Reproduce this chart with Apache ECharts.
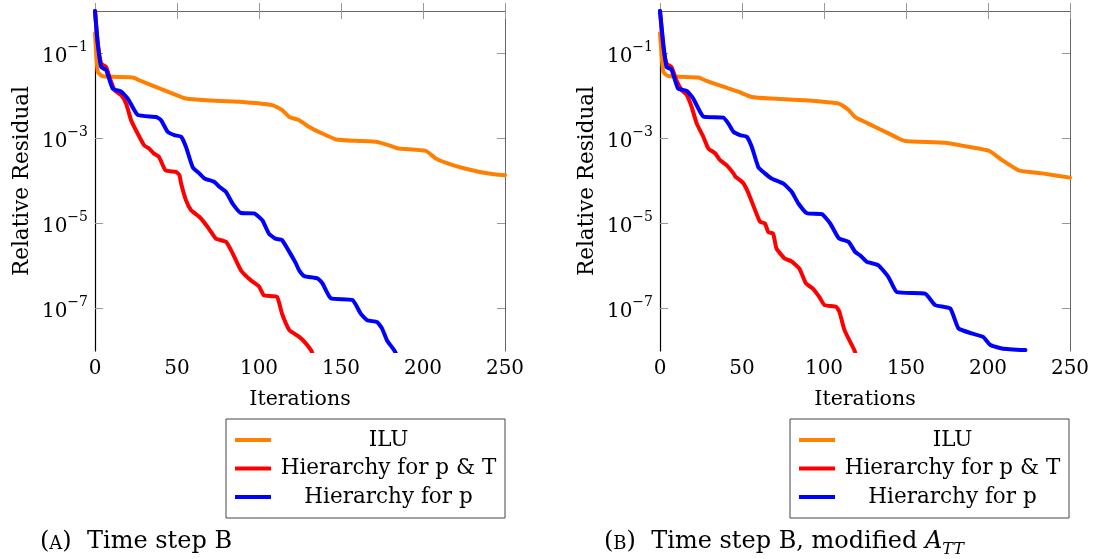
<!DOCTYPE html>
<html><head><meta charset="utf-8">
<script src="https://cdn.jsdelivr.net/npm/echarts@6/dist/echarts.min.js"></script>
<style>html,body{margin:0;padding:0;background:#fff}#c{width:1097px;height:559px}</style>
</head><body><div id="c"></div>
<script>
// ---------- data ----------
const xTicks = [0, 50, 100, 150, 200, 250];
const yTickExponents = [-7, -5, -3, -1];
const yRangeExponents = [-8, 0];
const seriesNames = ['ILU', 'Hierarchy for p & T', 'Hierarchy for p'];
const seriesColors = ['#ff8000', '#ff0000', '#0000ff'];

// Panel A: Time step B
const iluA = [[0,0.3],[1.7,0.037],[4.8,0.029],[23,0.0272],[27,0.0235],[37,0.0164],[47,0.0115],[55.5,0.0087],[68,0.0079],[88,0.0073],[108,0.0061],[114,0.0047],[118.5,0.0032],[124.5,0.0027],[130.6,0.00187],[138.6,0.00131],[147,0.00095],[159,0.00088],[172,0.00083],[179.4,0.00069],[185.4,0.00058],[201.7,0.00051],[207.8,0.00034],[217.7,0.00024],[228,0.000187],[240,0.00015],[250,0.000136]];
const pTA = [[0,1],[1.7,0.17],[3.8,0.058],[6.8,0.048],[8.8,0.028],[11.9,0.0137],[16,0.0104],[19,0.0066],[22,0.0027],[26,0.00131],[30,0.00069],[33,0.00058],[36,0.00044],[39,0.00037],[43,0.000178],[49.5,0.000163],[51.5,0.000137],[52.5,8.7e-5],[55.5,3.5e-5],[58.6,2.05e-5],[63.6,1.44e-5],[68.7,8.3e-6],[73.8,4.4e-6],[79.9,3.7e-6],[84,1.96e-6],[89,7.9e-7],[95,4.6e-7],[100,3.3e-7],[103,2.05e-7],[111,1.87e-7],[114,7.6e-8],[118.5,3.1e-8],[124.5,2.15e-8],[128,1.6e-8],[131.7,1.05e-8],[133,8e-9]];
const pA = [[0,1],[1.7,0.17],[3.8,0.048],[6.8,0.041],[10.8,0.015],[16,0.0126],[20,0.0087],[26,0.0036],[37.3,0.0032],[40.3,0.0027],[44.3,0.00144],[48.4,0.0012],[52.5,0.0011],[55.5,0.00063],[59.6,0.00021],[63.6,0.000151],[66.7,0.000115],[72.8,9.5e-5],[75.8,7.3e-5],[79.9,5.5e-5],[84,2.9e-5],[89,1.77e-5],[97,1.73e-5],[102,1.2e-5],[106,5.8e-6],[110,4.4e-6],[114,4.1e-6],[118.5,2.15e-6],[122.5,1.15e-6],[124.5,7.9e-7],[127.6,5.8e-7],[135.7,5.1e-7],[138.7,3.9e-7],[143.8,1.74e-7],[157,1.58e-7],[162,7.6e-8],[166,5.3e-8],[172,4.8e-8],[175,3.4e-8],[178,1.8e-8],[182.4,1.05e-8],[184,8e-9]];

// Panel B: Time step B, modified A_TT
const iluB = [[0,0.3],[2,0.037],[5,0.0295],[23.4,0.0272],[27.5,0.0234],[37.7,0.017],[47.8,0.0126],[56,0.0095],[68,0.0087],[88.5,0.0079],[109,0.0066],[115,0.0047],[119,0.0032],[125,0.00245],[127,0.00224],[139.3,0.00132],[145.5,0.001],[149.6,0.00087],[174,0.00079],[184,0.00068],[200.4,0.00052],[208.6,0.00031],[218.7,0.000178],[233,0.000151],[250,0.00012]];
const pTB = [[0,1],[2,0.145],[4,0.058],[7,0.048],[10,0.0234],[13.2,0.0138],[16.3,0.0105],[19.3,0.0055],[22.4,0.00224],[26.4,0.0011],[29.5,0.00058],[33.6,0.00045],[36.6,0.00031],[40.7,0.000234],[44.8,0.000151],[46,0.000126],[48.8,0.000105],[51,8.7e-5],[54,5.1e-5],[58,2.05e-5],[61,1.1e-5],[64,1.0e-5],[66,6.3e-6],[69,5.8e-6],[71,2.6e-6],[76,1.5e-6],[80,1.3e-6],[85,8.7e-7],[89,3.9e-7],[93.2,2.95e-7],[97.2,1.86e-7],[100.3,1.2e-7],[107.4,1.1e-7],[109.4,8.3e-8],[112.5,3.1e-8],[116.5,1.5e-8],[118.5,1.05e-8],[119.5,8e-9]];
const pB = [[0,1],[2,0.17],[4,0.048],[7,0.042],[11,0.015],[16.3,0.0132],[20.3,0.0087],[26.4,0.0033],[38.6,0.0031],[41.7,0.00224],[44.8,0.00144],[48.8,0.0012],[52.9,0.0011],[56,0.00063],[60,0.00021],[64,0.000151],[68,0.000115],[75.3,8.7e-5],[80.4,5.5e-5],[84.4,2.95e-5],[89.6,1.74e-5],[98.7,1.66e-5],[103.8,1.0e-5],[109,4.5e-6],[115,3.7e-6],[119,2.15e-6],[122,1.78e-6],[126,1.26e-6],[133,1.05e-6],[139.3,5.5e-7],[144.4,2.45e-7],[161.7,2.24e-7],[167.8,1.2e-7],[177,1.0e-7],[182,3.4e-8],[190,2.6e-8],[197,2.15e-8],[201.5,1.38e-8],[208.6,1.15e-8],[222.8,1.05e-8]];

const panelData = [[iluA, pTA, pA], [iluB, pTB, pB]];

// ---------- chart ----------
const FONT = 'DejaVu Serif';
const chart = echarts.init(document.getElementById('c'), null, {renderer: 'canvas'});

const grids = [
  {left: 95, top: 11, width: 410, height: 340},
  {left: 660, top: 11, width: 410, height: 340}
];
const legendPos = [{left: 226, top: 419}, {left: 790, top: 419}];

const xAxes = [], yAxes = [], series = [], legends = [];
const tickStyle = {show: true, inside: true, length: 8, lineStyle: {color: '#999', width: 1}};

grids.forEach((g, gi) => {
  const xBase = {
    type: 'value', gridIndex: gi,
    min: xTicks[0], max: xTicks[xTicks.length - 1], interval: xTicks[1] - xTicks[0],
    splitLine: {show: false}
  };
  xAxes.push(Object.assign({}, xBase, {
    position: 'bottom',
    axisLine: {show: true, lineStyle: {color: '#000', width: 1.2}},
    axisTick: tickStyle,
    axisLabel: {color: '#000', fontFamily: FONT, fontSize: 20, margin: 8},
    name: 'Iterations', nameLocation: 'middle', nameGap: 38,
    nameTextStyle: {color: '#000', fontFamily: FONT, fontSize: 20.5}
  }));
  xAxes.push(Object.assign({}, xBase, {
    position: 'top',
    axisLine: {show: true, lineStyle: {color: '#666', width: 1}},
    axisTick: tickStyle,
    axisLabel: {show: false}
  }));

  // hidden log axis used to draw the data
  yAxes.push({
    type: 'log', logBase: 10, gridIndex: gi, position: 'left', show: false,
    min: Math.pow(10, yRangeExponents[0]), max: Math.pow(10, yRangeExponents[1])
  });
  const dataYIndex = yAxes.length - 1;
  const yDisp = {
    type: 'value', gridIndex: gi,
    min: yRangeExponents[0], max: yRangeExponents[1], interval: 1,
    splitLine: {show: false}
  };
  yAxes.push(Object.assign({}, yDisp, {
    position: 'left',
    axisLine: {show: true, lineStyle: {color: '#000', width: 1.2}},
    axisTick: Object.assign({}, tickStyle, {customValues: yTickExponents}),
    axisLabel: {
      customValues: yTickExponents, margin: 7,
      formatter: v => '{b|10}{s|\u2212' + Math.abs(v) + '}',
      rich: {
        b: {fontFamily: FONT, fontSize: 20, color: '#000', lineHeight: 26, verticalAlign: 'bottom'},
        s: {fontFamily: FONT, fontSize: 14, color: '#000', lineHeight: 26, verticalAlign: 'top'}
      }
    },
    name: 'Relative Residual', nameLocation: 'middle', nameGap: 62,
    nameTextStyle: {color: '#000', fontFamily: FONT, fontSize: 21.5}
  }));
  yAxes.push(Object.assign({}, yDisp, {
    position: 'right',
    axisLine: {show: true, lineStyle: {color: '#666', width: 1}},
    axisTick: Object.assign({}, tickStyle, {customValues: yTickExponents}),
    axisLabel: {show: false}
  }));

  seriesNames.forEach((name, si) => {
    series.push({
      type: 'line', name: name,
      xAxisIndex: gi * 2, yAxisIndex: dataYIndex,
      data: panelData[gi][si],
      showSymbol: false, symbol: 'none', clip: true,
      smooth: 0.15,
      lineStyle: {color: seriesColors[si], width: 4, cap: 'round', join: 'round'},
      itemStyle: {color: seriesColors[si]},
      emphasis: {disabled: true},
      animation: false
    });
  });

  legends.push({
    left: legendPos[gi].left, top: legendPos[gi].top,
    orient: 'vertical', selectedMode: false,
    data: seriesNames, icon: 'rect', itemWidth: 36, itemHeight: 4, itemGap: 6.5,
    padding: [10, 4, 10, 9],
    borderColor: '#444', borderWidth: 1, backgroundColor: '#fff',
    formatter: n => '{c|' + n + '}',
    textStyle: {
      rich: {c: {width: 225, align: 'center', fontFamily: FONT, fontSize: 21.5, color: '#000', lineHeight: 24}}
    }
  });
});

const capRich = {
  n: {fontFamily: FONT, fontSize: 24, fill: '#000', lineHeight: 32, verticalAlign: 'bottom'},
  sc: {fontFamily: FONT, fontSize: 18, fill: '#000', lineHeight: 32, verticalAlign: 'bottom', padding: [0, 0, 1, 0]},
  it: {fontFamily: FONT, fontStyle: 'italic', fontSize: 24, fill: '#000', lineHeight: 32, verticalAlign: 'bottom'},
  sub: {fontFamily: FONT, fontStyle: 'italic', fontSize: 16, fill: '#000', lineHeight: 32, verticalAlign: 'bottom', padding: [0, 0, -4, 0]}
};

chart.setOption({
  animation: false,
  backgroundColor: '#fff',
  grid: grids,
  xAxis: xAxes,
  yAxis: yAxes,
  legend: legends,
  series: series,
  graphic: [
    {type: 'text', left: 40, top: 530, style: {text: '{n|(}{sc|A}{n|)  Time step B}', rich: capRich}},
    {type: 'text', left: 604, top: 530, style: {text: '{n|(}{sc|B}{n|)  Time step B, modified }{it|A}{sub|TT}', rich: capRich}}
  ]
});
</script></body></html>
